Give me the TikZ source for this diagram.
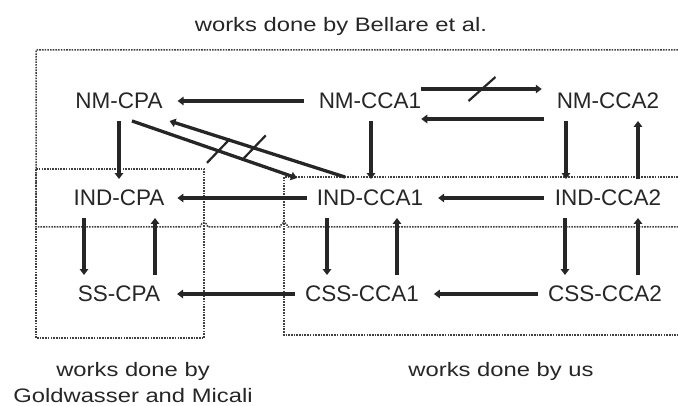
\documentclass[tikz,border=0pt]{standalone}
\usepackage{fontspec}
\setmainfont{Liberation Sans}
\newfontfamily\widefont[FakeStretch=1.22]{Liberation Sans}
\usetikzlibrary{arrows.meta,calc}
\begin{document}
\begin{tikzpicture}[x=1pt,y=-1pt,
  lbl/.style={inner sep=0pt,outer sep=0pt,text=black!85,font=\fontsize{22.5}{26}\selectfont},
  note/.style={inner sep=0pt,outer sep=0pt,anchor=base,text=black!85,font=\widefont\fontsize{19.5}{23}\selectfont},
  arr/.style={line width=3.3pt,draw=black!85,-{Triangle[length=6pt,width=8.5pt]}},
  slash/.style={line width=2.2pt,draw=black!85},
  box/.style={line width=1.5pt,draw=black!75,dash pattern=on 1.6pt off 1.1pt}]
\useasboundingbox (0,0) rectangle (678,406);
% dotted regions
\draw[box] (678,50) -- (36,50) -- (36,227) -- (200,227)
  .. controls (202,221) and (206,221) .. (208,227) -- (280,227)
  .. controls (282,221) and (286,221) .. (288,227) -- (678,227);
\draw[box] (36,169) rectangle (204,338);
\draw[box] (678,177) -- (284,177) -- (284,335) -- (678,335);
% labels
\node[note] (tb) at (341,32) {works done by Bellare et al.};
\node[note] (tg1) at (133,376) {works done by};
\node[note] (tg2) at (133,402) {Goldwasser and Micali};
\node[note] (tu) at (501,377) {works done by us};
% nodes
\node[lbl] (nmcpa) at (119,101) {NM-CPA};
\node[lbl] (nmcca1) at (370,101) {NM-CCA1};
\node[lbl] (nmcca2) at (608,101) {NM-CCA2};
\node[lbl] (indcpa) at (119,198) {IND-CPA};
\node[lbl] (indcca1) at (370,198) {IND-CCA1};
\node[lbl] (indcca2) at (608,198) {IND-CCA2};
\node[lbl] (sscpa) at (119,294) {SS-CPA};
\node[lbl] (csscca1) at (362,294) {CSS-CCA1};
\node[lbl] (csscca2) at (605,294) {CSS-CCA2};
% horizontal arrows
\draw[arr] ($(nmcca1.west)+(-15,0)$) -- ($(nmcpa.east)+(15,0)$);
\draw[arr] ($(nmcca1.east)+(0,-12)$) coordinate (t1) -- ($(nmcca2.west)+(-15,-12)$) coordinate (t2);
\draw[arr] ($(nmcca2.west)+(-13,18)$) -- ($(nmcca1.east)+(0,18)$);
\draw[arr] ($(indcca1.west)+(-10,0)$) -- ($(indcpa.east)+(13,0)$);
\draw[arr] ($(indcca2.west)+(-11,0)$) -- ($(indcca1.east)+(15,0)$);
\draw[arr] ($(csscca1.west)+(-10,0)$) -- ($(sscpa.east)+(17,0)$);
\draw[arr] ($(csscca2.west)+(-10,0)$) -- ($(csscca1.east)+(15,0)$);
% vertical arrows, top to middle
\draw[arr] ($(nmcpa.south)+(0,12)$) -- ($(indcpa.north)+(0,-11)$);
\draw[arr] ($(nmcca1.south)+(1,12)$) -- ($(indcca1.north)+(1,-11)$);
\draw[arr] ($(nmcca2.south)+(-42,12)$) -- ($(indcca2.north)+(-42,-11)$);
\draw[arr] ($(indcca2.north)+(30,-11)$) -- ($(nmcca2.south)+(30,12)$);
% vertical arrows, middle to bottom
\draw[arr] ($(indcpa.south)+(-35,12)$) -- ($(sscpa.north)+(-35,-11)$);
\draw[arr] ($(sscpa.north)+(36,-11)$) -- ($(indcpa.south)+(36,12)$);
\draw[arr] ($(indcca1.south)+(-43,12)$) -- ($(csscca1.north)+(-35,-11)$);
\draw[arr] ($(csscca1.north)+(35,-11)$) -- ($(indcca1.south)+(27,12)$);
\draw[arr] ($(indcca2.south)+(-43,12)$) -- ($(csscca2.north)+(-40,-11)$);
\draw[arr] ($(csscca2.north)+(33,-11)$) -- ($(indcca2.south)+(30,12)$);
% diagonal arrows
\draw[arr] ($(nmcpa.south)+(13,12)$) coordinate (a1) -- ($(indcca1.north)+(-73,-12)$) coordinate (a2);
\draw[arr] ($(indcca1.north)+(-25,-13)$) coordinate (b1) -- ($(nmcpa.east)+(7,20)$) coordinate (b2);
% slashes (not implies)
\coordinate (s1) at ($(a1)!0.524!(a2)$);
\coordinate (s2) at ($(b1)!0.52!(b2)$);
\coordinate (s3) at ($(t1)!0.504!(t2)$);
\draw[slash] ($(s1)+(-11.5,12)$) -- ($(s1)+(11.5,-12)$);
\draw[slash] ($(s2)+(-12,12.5)$) -- ($(s2)+(12,-12.5)$);
\draw[slash] ($(s3)+(-13.5,12)$) -- ($(s3)+(13.5,-12)$);
\end{tikzpicture}
\end{document}
